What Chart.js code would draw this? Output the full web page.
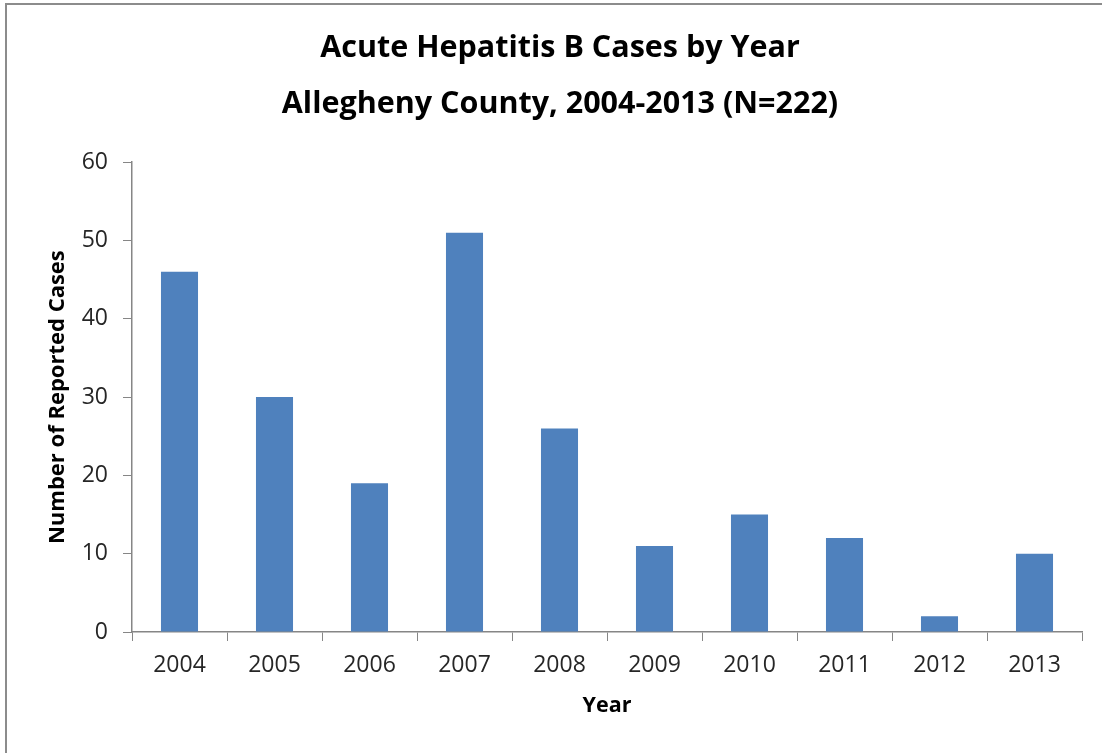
<!DOCTYPE html>
<html>
<head>
<meta charset="utf-8">
<script src="https://cdn.jsdelivr.net/npm/chart.js@4/dist/chart.umd.min.js"></script>
<style>
  html, body { margin: 0; padding: 0; background: #fff; }
  #wrap { position: relative; width: 1102px; height: 753px; }
  #frame { position: absolute; left: 5px; top: 3px; right: -4px; bottom: -4px; border: 2px solid #8c8c8c; }
  canvas { position: absolute; left: 0; top: 0; }
</style>
</head>
<body>
<div id="wrap">
  <div id="frame"></div>
  <canvas id="chart" width="1102" height="753"></canvas>
</div>
<script>
const years = ['2004', '2005', '2006', '2007', '2008', '2009', '2010', '2011', '2012', '2013'];
const cases = [46, 30, 19, 51, 26, 11, 15, 12, 2, 10];
const titleLines = ['Acute Hepatitis B Cases by Year', 'Allegheny County, 2004-2013 (N=222)'];

const FONT = "'Open Sans', 'Liberation Sans', sans-serif";
const axisGray = '#868686';

Chart.defaults.font.family = FONT;
Chart.defaults.color = '#262626';

new Chart(document.getElementById('chart'), {
    type: 'bar',
    data: {
        labels: years,
        datasets: [{
            data: cases,
            backgroundColor: '#4f81bd',
            barPercentage: 0.39,
            categoryPercentage: 1.0
        }]
    },
    options: {
        responsive: false,
        animation: false,
        // left padding pushes the title centre to match the original
        layout: { padding: { left: 38, right: 20, top: 20, bottom: 0 } },
        plugins: {
            legend: { display: false },
            tooltip: { enabled: false },
            title: {
                display: true,
                text: titleLines,
                color: '#000',
                font: { size: 30.5, weight: 'bold', lineHeight: 1.84 },
                padding: { top: 0, bottom: 30 }
            }
        },
        scales: {
            x: {
                afterFit: s => { s.height = 121; },
                grid: { drawOnChartArea: false, color: axisGray, tickLength: 9, offset: true },
                border: { color: axisGray, width: 1.5 },
                ticks: { font: { size: 23 }, color: '#262626', padding: 11 },
                title: {
                    display: true,
                    text: 'Year',
                    color: '#000',
                    font: { size: 21.5, weight: 'bold', lineHeight: 1.2 },
                    padding: { top: 0, bottom: 34 }
                }
            },
            y: {
                min: 0,
                max: 60,
                afterFit: s => { s.width = 94; },
                grid: { drawOnChartArea: false, color: axisGray, tickLength: 9 },
                border: { color: axisGray, width: 1.5 },
                ticks: { stepSize: 10, font: { size: 23 }, color: '#262626', padding: 15 },
                title: {
                    display: true,
                    text: 'Number of Reported Cases',
                    color: '#000',
                    font: { size: 22, weight: 'bold', lineHeight: 1.2 },
                    padding: { top: 7, bottom: 0 }
                }
            }
        }
    }
});
</script>
</body>
</html>
